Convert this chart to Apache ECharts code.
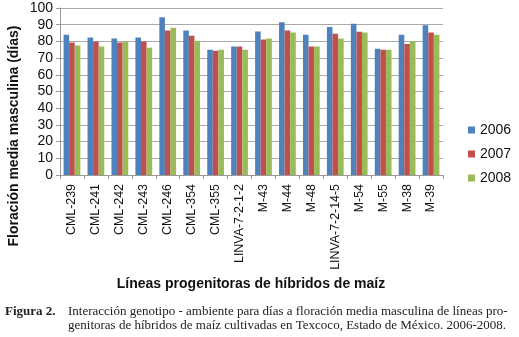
<!DOCTYPE html>
<html>
<head>
<meta charset="utf-8">
<script src="https://cdn.jsdelivr.net/npm/echarts@6/dist/echarts.min.js"></script>
<style>
  html, body { margin: 0; padding: 0; background: #fff; }
  #chart { width: 519px; height: 337px; }
</style>
</head>
<body>
<div id="chart"></div>
<script>
// Maize parent lines
const lineas = ['CML-239', 'CML-241', 'CML-242', 'CML-243', 'CML-246', 'CML-354', 'CML-355',
  'LINVA-7-2-1-2', 'M-43', 'M-44', 'M-48', 'LINVA-7-2-14-5', 'M-54', 'M-55', 'M-38', 'M-39'];
const years = ['2006', '2007', '2008'];
// days to male flowering
const dias2006 = [84, 82.4, 81.8, 82.4, 94.4, 86.6, 75, 77, 86, 91.4, 84, 88.6, 90.6, 75.6, 84, 89.6];
const dias2007 = [79.4, 80, 79.4, 80, 86.6, 83.4, 74.4, 77, 81.2, 86.6, 77, 84.6, 85.8, 75, 78.4, 85.4];
const dias2008 = [77.6, 77, 80, 76.2, 88.2, 80.4, 75, 75, 81.8, 85.4, 77, 81.8, 85.4, 75, 80, 84];
const yTicks = { min: 0, max: 100, step: 10 };

const colors = ['#4F81BD', '#C0504D', '#9BBB59'];
const sans = '"Liberation Sans", Arial, sans-serif';
const serif = '"Liberation Serif", "Times New Roman", serif';

const chart = echarts.init(document.getElementById('chart'));

const seriesData = [dias2006, dias2007, dias2008];

chart.setOption({
  animation: false,
  color: colors,
  grid: { left: 60, right: 76, top: 8, bottom: 162, containLabel: false },
  legend: {
    orient: 'vertical',
    left: 463,
    top: 118,
    icon: 'rect',
    itemWidth: 7,
    itemHeight: 7,
    itemGap: 10,
    textStyle: { fontFamily: sans, fontSize: 14, color: '#111' },
    data: years,
  },
  xAxis: {
    type: 'category',
    data: lineas,
    axisLine: { lineStyle: { color: '#999' } },
    axisTick: { show: true, length: 4, lineStyle: { color: '#999' } },
    axisLabel: {
      rotate: 90,
      interval: 0,
      margin: 9,
      fontFamily: sans,
      fontSize: 12.4,
      color: '#111',
    },
  },
  yAxis: {
    type: 'value',
    min: yTicks.min,
    max: yTicks.max,
    interval: yTicks.step,
    axisLine: { show: true, lineStyle: { color: '#999' } },
    axisTick: { show: true, length: 4, lineStyle: { color: '#999' } },
    axisLabel: { fontFamily: sans, fontSize: 14, color: '#111', margin: 7 },
    splitLine: { lineStyle: { color: '#aaa' } },
  },
  series: years.map((y, i) => ({
    name: y,
    type: 'bar',
    data: seriesData[i],
    barGap: '0%',
    barCategoryGap: '30%',
  })),
  graphic: [
    {
      type: 'text',
      x: 14,
      y: 136,
      rotation: Math.PI / 2,
      style: {
        text: 'Floración media masculina (días)',
        font: 'bold 14px ' + sans,
        fill: '#111',
        align: 'center',
        verticalAlign: 'middle',
      },
    },
    {
      type: 'text',
      x: 251,
      y: 284,
      style: {
        text: 'Líneas progenitoras de híbridos de maíz',
        font: 'bold 14px ' + sans,
        fill: '#111',
        align: 'center',
        verticalAlign: 'middle',
      },
    },
    {
      type: 'text',
      x: 5,
      y: 312,
      style: {
        text: 'Figura 2.',
        font: 'bold 13px ' + serif,
        fill: '#222',
        verticalAlign: 'middle',
      },
    },
    {
      type: 'text',
      x: 68,
      y: 312,
      style: {
        text: 'Interacción genotipo - ambiente para días a floración media masculina de líneas pro-',
        font: '13px ' + serif,
        fill: '#222',
        verticalAlign: 'middle',
      },
    },
    {
      type: 'text',
      x: 68,
      y: 326,
      style: {
        text: 'genitoras de híbridos de maíz cultivadas en Texcoco, Estado de México. 2006-2008.',
        font: '13px ' + serif,
        fill: '#222',
        verticalAlign: 'middle',
      },
    },
  ],
});
</script>
</body>
</html>
